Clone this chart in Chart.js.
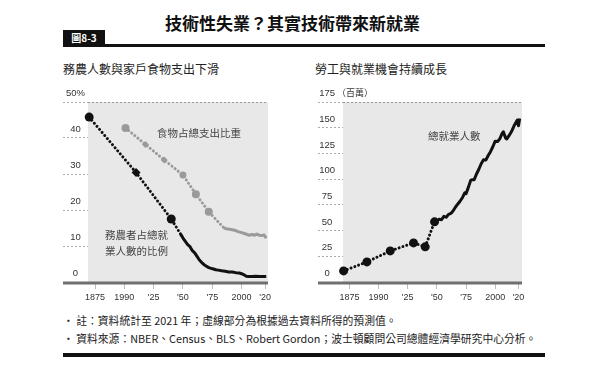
<!DOCTYPE html>
<html>
<head>
<meta charset="utf-8">
<script src="https://cdn.jsdelivr.net/npm/chart.js@4.4.0/dist/chart.umd.min.js"></script>
<style>
    body { margin: 0; background: #fff; width: 600px; height: 371px; position: relative; overflow: hidden;
           font-family: "Noto Sans CJK TC", "Noto Sans", sans-serif; color: #222; }
    .abs { position: absolute; white-space: nowrap; }
    canvas { position: absolute; }
</style>
</head>
<body>
<div class="abs" style="left:165px;top:12px;font-size:17px;line-height:22px;font-weight:700;color:#111;">技術性失業？其實技術帶來新就業</div>
<div class="abs" style="left:63px;top:30px;width:42px;height:16px;background:#111;color:#fff;font-size:10px;line-height:16px;font-weight:700;text-align:center;">圖8-3</div>
<div class="abs" style="left:63px;top:44px;width:482px;height:3px;background:#111;"></div>

<div class="abs" style="left:63px;top:61px;font-size:12px;line-height:15px;">務農人數與家戶食物支出下滑</div>
<div class="abs" style="left:315px;top:61px;font-size:12px;line-height:15px;">勞工與就業機會持續成長</div>

<canvas id="leftChart" width="220" height="220" style="left:55px;top:85px;"></canvas>
<canvas id="rightChart" width="225" height="220" style="left:305px;top:85px;"></canvas>

<div class="abs" style="left:157px;top:127px;font-size:10.5px;line-height:12px;color:#444;">食物占總支出比重</div>
<div class="abs" style="left:105px;top:227px;font-size:10.5px;line-height:16px;color:#444;">務農者占總就<br>業人數的比例</div>
<div class="abs" style="left:428px;top:130px;font-size:10.5px;line-height:12px;color:#444;">總就業人數</div>
<div class="abs" style="left:337px;top:87px;font-size:9px;line-height:12px;color:#333;">（百萬）</div>

<div class="abs" style="left:63px;top:313px;font-size:10.8px;line-height:14px;">• 註：資料統計至 2021 年；虛線部分為根據過去資料所得的預測值。</div>
<div class="abs" style="left:63px;top:331px;font-size:10.8px;line-height:14px;">• 資料來源：NBER、Census、BLS、Robert Gordon；波士頓顧問公司總體經濟學研究中心分析。</div>
<div class="abs" style="left:63px;top:353px;width:482px;height:4px;background:#111;"></div>

<script>
// shared x axis
const xTickYears = [1875, 1900, 1925, 1950, 1975, 2000, 2020];
const xTickLabels = ["1875", "1990", "'25", "'50", "'75", "2000", "'20"];

// left chart: farm workers share of employment (%)
const farmDottedYears = [1870, 1910, 1940, 1948];
const farmDottedShare = [45.8, 30.4, 17.5, 13.3];
const farmSolidYears = [1948, 1950, 1952, 1954, 1956, 1958, 1960, 1962, 1964, 1966, 1968, 1970, 1972, 1974, 1976, 1978, 1980, 1983, 1986, 1989, 1992, 1995, 1998, 2000, 2002, 2004, 2006, 2009, 2012, 2015, 2018, 2021];
const farmSolidShare = [13.3, 12.2, 11.3, 10.4, 9.8, 8.7, 8.1, 7.1, 6.1, 5.4, 4.8, 4.4, 4.0, 3.8, 3.6, 3.4, 3.3, 3.1, 3.0, 2.8, 2.8, 2.6, 2.5, 2.3, 2.0, 1.6, 1.5, 1.5, 1.6, 1.5, 1.5, 1.5];

// left chart: food share of household spending (%)
const foodDottedYears = [1901, 1918, 1934, 1950, 1961, 1972, 1985];
const foodDottedShare = [42.8, 38.2, 33.9, 29.7, 24.4, 19.5, 15.0];
const foodSolidYears = [1985, 1988, 1991, 1994, 1997, 2000, 2003, 2006, 2009, 2011, 2013, 2015, 2017, 2019, 2021];
const foodSolidShare = [15.0, 14.7, 14.6, 14.4, 14.0, 13.7, 13.4, 13.0, 13.2, 13.0, 13.3, 13.0, 12.9, 13.1, 12.2];

// right chart: total employment (millions)
const empDottedYears = [1870, 1890, 1910, 1930, 1940, 1948];
const empDotted = [10.8, 19.5, 30.2, 38.0, 34.2, 58.5];
const empSolidYears = [1948, 1950, 1952, 1954, 1956, 1958, 1960, 1962, 1964, 1966, 1968, 1970, 1972, 1974, 1975, 1977, 1979, 1980, 1982, 1984, 1986, 1988, 1990, 1992, 1994, 1996, 1998, 2000, 2002, 2004, 2006, 2007, 2009, 2010, 2012, 2014, 2016, 2018, 2019, 2020, 2021];
const empSolid = [58.5, 59.5, 61.0, 60.5, 63.8, 63.0, 65.8, 66.7, 69.3, 72.9, 75.9, 78.7, 82.2, 86.8, 85.8, 92.0, 98.8, 99.3, 99.5, 105.0, 109.6, 115.0, 118.8, 118.5, 123.0, 126.7, 131.5, 136.9, 136.5, 139.3, 144.4, 146.0, 139.9, 139.1, 142.5, 146.3, 151.4, 155.5, 157.5, 152.0, 159.0];

const leftYTicks = [0, 10, 20, 30, 40, 50];
const rightYTicks = [0, 25, 50, 75, 100, 125, 150, 175];

const pts = (xs, ys) => xs.map((x, i) => ({ x: x, y: ys[i] }));

const frame = {
    id: "frame",
    beforeDraw(chart) {
        const { ctx, chartArea: a } = chart;
        ctx.save();
        ctx.fillStyle = "#e8e8e8";
        ctx.fillRect(a.left, a.top, a.right - a.left, a.bottom - a.top);
        ctx.restore();
    },
    afterDraw(chart) {
        const { ctx, chartArea: a } = chart;
        ctx.save();
        ctx.strokeStyle = "#707070";
        ctx.lineWidth = 3;
        ctx.beginPath();
        ctx.moveTo(chart.scales.y.left, a.bottom + 1);
        ctx.lineTo(a.right, a.bottom + 1);
        ctx.stroke();
        ctx.restore();
    }
};

function xAxis(min, max) {
    return {
        type: "linear", min: min, max: max,
        afterBuildTicks: s => { s.ticks = xTickYears.map(v => ({ value: v })); },
        ticks: { callback: (v, i) => xTickLabels[i], font: { size: 9, family: "Liberation Sans" }, color: "#333", padding: 3, maxRotation: 0, autoSkip: false },
        grid: { drawOnChartArea: false, tickLength: 7, tickColor: "#bbb" },
        border: { display: false },
        afterFit: s => { s.height = 23; }
    };
}

function yAxis(max, ticks, topLabel, pad) {
    return {
        min: 0, max: max,
        afterBuildTicks: s => { s.ticks = ticks.map(v => ({ value: v })); },
        ticks: { callback: v => v === max ? topLabel : v, crossAlign: "center", padding: pad, labelOffset: -8.5, font: { size: 9.5, family: "Liberation Sans" }, color: "#333" },
        grid: { color: c => c.tick && c.tick.value === max ? "#999" : "rgba(0,0,0,0)", tickColor: "#aaa", tickLength: 25, tickBorderDash: [2, 2] },
        border: { display: false, dash: [2, 2] },
        afterFit: s => { s.width = 25; }
    };
}

function baseOptions(pad, xmin, xmax, ymax, yticks, topLabel, ypad) {
    return {
        responsive: false,
        animation: false,
        layout: { padding: pad },
        plugins: { legend: { display: false }, tooltip: { enabled: false } },
        scales: { x: xAxis(xmin, xmax), y: yAxis(ymax, yticks, topLabel, ypad) }
    };
}

function dotted(data, color, radius, styles) {
    return {
        data: data, borderColor: color, backgroundColor: color, borderWidth: 3,
        borderDash: [0.01, 4], borderCapStyle: "round",
        pointRadius: radius, pointStyle: styles, pointBorderWidth: 0,
        clip: false, tension: 0
    };
}

function solid(data, color, width) {
    return { data: data, borderColor: color, borderWidth: width, pointRadius: 0, clip: false, tension: 0, borderJoinStyle: "round" };
}

function renderLeft() {
    new Chart(document.getElementById("leftChart"), {
        type: "line",
        data: {
            datasets: [
                dotted(pts(foodDottedYears, foodDottedShare), "#9a9a9a", [4, 3.5, 3.5, 3.5, 4, 4, 0], ["circle", "rectRot", "rectRot", "circle", "circle", "circle", "circle"]),
                solid(pts(foodSolidYears, foodSolidShare), "#9a9a9a", 3),
                dotted(pts(farmDottedYears, farmDottedShare), "#111", [4.5, 4.5, 4.5, 0], ["circle", "rectRot", "circle", "circle"]),
                solid(pts(farmSolidYears, farmSolidShare), "#111", 3)
            ]
        },
        options: baseOptions({ left: 8, right: 7, top: 17, bottom: 0 }, 1869, 2022.5, 50, leftYTicks, "50%", -22),
        plugins: [frame]
    });
}

function renderRight() {
    new Chart(document.getElementById("rightChart"), {
        type: "line",
        data: {
            datasets: [
                dotted(pts(empDottedYears, empDotted), "#111", [4.5, 4.5, 4.5, 4.5, 4.5, 4.5], "circle"),
                solid(pts(empSolidYears, empSolid), "#111", 3)
            ]
        },
        options: baseOptions({ left: 13, right: 8, top: 17, bottom: 0 }, 1869.5, 2023, 175, rightYTicks, "175", -17),
        plugins: [frame]
    });
}

renderLeft();
renderRight();
</script>
</body>
</html>
